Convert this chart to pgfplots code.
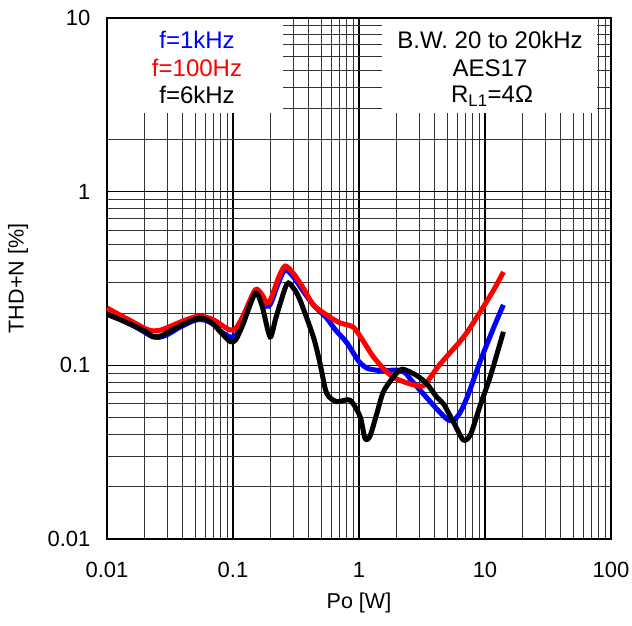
\documentclass[border=0pt]{standalone}
\usepackage{pgfplots}
\pgfplotsset{compat=1.18}
\usepackage{fontspec}
\setmainfont{Liberation Sans}
\definecolor{pblue}{RGB}{0,0,255}
\definecolor{pred}{RGB}{255,0,0}
\begin{document}
\begin{tikzpicture}
\begin{axis}[
  scale only axis,
  width=504pt, height=521pt,
  xmode=log, ymode=log,
  xmin=0.01, xmax=100, ymin=0.01, ymax=10,
  xtick={0.01,0.1,1,10,100},
  xticklabels={0.01,0.1,1,10,100},
  ytick={0.01,0.1,1,10},
  yticklabels={0.01,0.1,1,10},
  /pgf/number format/assume math mode=true,
  grid=both,
  major grid style={black, line width=1.3pt},
  minor grid style={black!80, line width=0.9pt},
  major tick length=0pt, minor tick length=0pt,
  axis line style={black, line width=2.4pt},
  tick label style={font=\fontsize{22}{24}\selectfont},
  xticklabel style={yshift=-20pt},
  yticklabel style={xshift=-13pt},
  xlabel={Po [W]},
  ylabel={THD+N [\%]},
  label style={font=\fontsize{21.5}{24}\selectfont},
  xlabel style={at={(axis description cs:0.5,-0.123)}, anchor=center},
  ylabel style={at={(axis description cs:-0.1766,0.5)}, anchor=center},
  clip=false,
  every axis plot/.append style={line width=5pt, smooth, tension=0.45},
]
\fill[white] ([shift={(1.3pt,-1.3pt)}]rel axis cs:0,1) rectangle (rel axis cs:0.349,0.818);
\fill[white] ([shift={(0pt,-1.3pt)}]rel axis cs:0.546,1) rectangle (rel axis cs:0.972,0.818);
\node[font=\fontsize{24}{26}\selectfont, text=pblue] at (rel axis cs:0.1786,0.958) {f=1kHz};
\node[font=\fontsize{24}{26}\selectfont, text=pred] at (rel axis cs:0.1786,0.904) {f=100Hz};
\node[font=\fontsize{24}{26}\selectfont, text=black] at (rel axis cs:0.1786,0.852) {f=6kHz};
\node[font=\fontsize{24}{26}\selectfont] at (rel axis cs:0.760,0.958) {B.W. 20 to 20kHz};
\node[font=\fontsize{24}{26}\selectfont] at (rel axis cs:0.760,0.904) {AES17};
\node[font=\fontsize{24}{26}\selectfont] at (rel axis cs:0.764,0.850) {R\textsubscript{L1}=4Ω};

% f=1kHz
\addplot[pblue] table {
x y
0.01 0.197
0.013 0.183
0.016 0.170
0.02 0.155
0.023 0.146
0.026 0.145
0.03 0.150
0.038 0.166
0.05 0.182
0.06 0.182
0.07 0.172
0.08 0.157
0.094 0.146
0.105 0.148
0.12 0.178
0.149 0.265
0.165 0.248
0.185 0.219
0.2 0.228
0.23 0.30
0.259 0.355
0.3 0.325
0.36 0.268
0.434 0.223
0.554 0.187
0.65 0.160
0.80 0.135
1.0 0.105
1.17 0.096
1.35 0.094
1.6 0.093
1.9 0.094
2.15 0.093
2.35 0.090
2.6 0.082
3.25 0.0684
4.15 0.056
5.0 0.049
5.6 0.048
6.3 0.053
7.22 0.0655
9.23 0.107
11.8 0.167
14.0 0.223
};
% f=100Hz
\addplot[pred] table {
x y
0.01 0.214
0.013 0.193
0.016 0.178
0.02 0.163
0.023 0.158
0.027 0.160
0.032 0.168
0.04 0.180
0.051 0.191
0.06 0.190
0.07 0.183
0.08 0.172
0.094 0.160
0.105 0.163
0.12 0.192
0.15 0.272
0.17 0.255
0.185 0.228
0.2 0.242
0.23 0.32
0.259 0.373
0.3 0.34
0.36 0.28
0.434 0.223
0.554 0.195
0.7 0.176
0.9 0.166
1.08 0.138
1.3 0.112
1.65 0.092
1.99 0.0836
2.54 0.0782
3.15 0.0758
3.46 0.080
4.42 0.102
6.79 0.146
9.23 0.205
11.8 0.274
14.0 0.345
};
% f=6kHz
\addplot[black] table {
x y
0.01 0.197
0.013 0.182
0.016 0.170
0.02 0.157
0.023 0.147
0.027 0.148
0.032 0.158
0.04 0.172
0.052 0.186
0.06 0.185
0.07 0.172
0.08 0.155
0.095 0.137
0.105 0.140
0.12 0.172
0.15 0.26
0.17 0.22
0.197 0.146
0.22 0.19
0.267 0.293
0.30 0.28
0.34 0.238
0.434 0.146
0.49 0.103
0.554 0.069
0.665 0.0618
0.849 0.063
1.02 0.0507
1.116 0.038
1.22 0.039
1.38 0.0523
1.556 0.070
1.87 0.0855
2.2 0.095
2.87 0.0874
3.46 0.0782
4.15 0.0655
4.7 0.0598
5.65 0.0468
6.73 0.0372
7.68 0.040
9.23 0.0598
11.0 0.086
14.0 0.156
};
\coordinate (SW) at (rel axis cs:0,0);
\end{axis}
\pgfresetboundingbox
\path[use as bounding box] ([shift={(-107pt,-86pt)}]SW) rectangle ++(632pt,625pt);
\end{tikzpicture}
\end{document}
